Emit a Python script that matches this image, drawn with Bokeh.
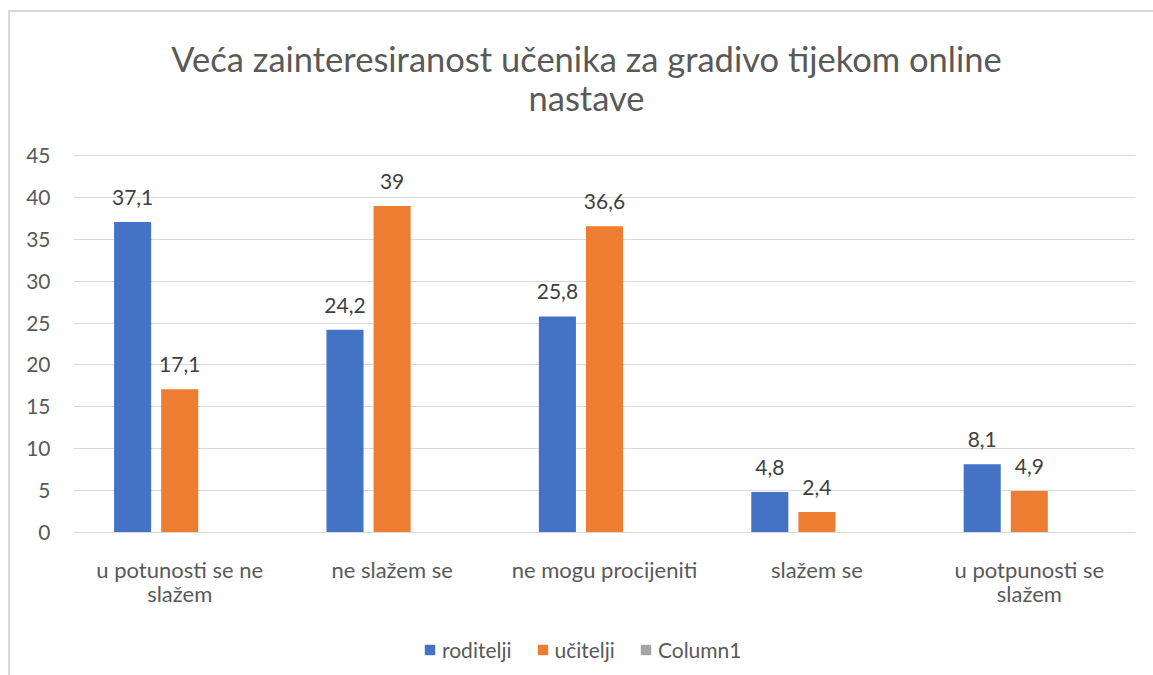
from bokeh.plotting import figure
from bokeh.models import (ColumnDataSource, FactorRange, Range1d, Legend, Label,
                          LegendItem, FixedTicker, LabelSet)
from bokeh.core.properties import value
from bokeh.transform import dodge
from bokeh.embed import file_html
from bokeh.resources import INLINE

categories = ["u potunosti se ne slažem", "ne slažem se", "ne mogu procijeniti",
              "slažem se", "u potpunosti se slažem"]
label_line1 = ["u potunosti se ne", "ne slažem se", "ne mogu procijeniti",
               "slažem se", "u potpunosti se"]
label_line2 = ["slažem", "", "", "", "slažem"]
roditelji = [37.1, 24.2, 25.8, 4.8, 8.1]
ucitelji = [17.1, 39, 36.6, 2.4, 4.9]
column1 = [float("nan")] * 5
series_names = ["roditelji", "učitelji", "Column1"]
colors = ["#4472C4", "#ED7D31", "#A5A5A5"]
y_ticks = [0, 5, 10, 15, 20, 25, 30, 35, 40, 45]
title_lines = ["Veća zainteresiranost učenika za gradivo tijekom online", "nastave"]

FONT = "Lato"

def fmt(v):
    return f"{v:g}".replace(".", ",")

src = ColumnDataSource(dict(
    cat=categories,
    rod=roditelji,
    uci=ucitelji,
    col=column1,
    rod_lbl=[fmt(v) for v in roditelji],
    uci_lbl=[fmt(v) for v in ucitelji],
    line1=label_line1,
    line2=label_line2,
    zero=[0] * len(categories),
))

FRAME_TOP, FRAME_BOTTOM = 12, 675   # page pixels of the plotting area
PX = 375 / 45.0                     # pixels per unit in the reference
y_lo = -(FRAME_BOTTOM - 530) / PX
y_hi = 45 + (155 - FRAME_TOP) / PX

p = figure(width=1145, height=FRAME_BOTTOM - 10, x_range=FactorRange(*categories),
           y_range=Range1d(y_lo, y_hi), output_backend="svg", toolbar_location=None,
           min_border_left=63, min_border_right=20, min_border_top=0,
           min_border_bottom=0)
p.styles = {"margin-left": "8px", "margin-top": "10px",
            "border-style": "solid none none solid",
            "border-width": "2px 0px 0px 2px",
            "border-color": "#d9d9d9"}
p.outline_line_color = None

off = 47 / 212
bw = 37 / 212
r1 = p.vbar(x=dodge("cat", -off, range=p.x_range), top="rod", width=bw, source=src,
            fill_color=colors[0], line_color=None)
r2 = p.vbar(x=dodge("cat", 0, range=p.x_range), top="uci", width=bw, source=src,
            fill_color=colors[1], line_color=None)
r3 = p.vbar(x=dodge("cat", off, range=p.x_range), top="col", width=bw, source=src,
            fill_color=colors[2], line_color=None)

for xo, ycol, lcol in [(-off, "rod", "rod_lbl"), (0, "uci", "uci_lbl")]:
    p.add_layout(LabelSet(x=dodge("cat", xo, range=p.x_range), y=ycol, text=lcol,
                          source=src, text_align="center", text_baseline="bottom",
                          y_offset=17, text_font=value(FONT), text_font_size="21px",
                          text_color="#404040"))

# y axis
p.yaxis.ticker = FixedTicker(ticks=y_ticks)
p.yaxis.axis_line_color = None
p.yaxis.major_tick_line_color = None
p.yaxis.minor_tick_line_color = None
p.yaxis.major_tick_out = 0
p.yaxis.major_tick_in = 0
p.yaxis.major_label_standoff = 23
p.yaxis.major_label_text_font = FONT
p.yaxis.major_label_text_font_size = "21px"
p.yaxis.major_label_text_color = "#595959"

p.xaxis.visible = False
p.xgrid.grid_line_color = None
p.ygrid.grid_line_color = "#d9d9d9"
p.ygrid.grid_line_width = 1

# category labels (two lines)
for col, yo in [("line1", -37), ("line2", -61)]:
    p.add_layout(LabelSet(x=dodge("cat", 0, range=p.x_range), y="zero", text=col,
                          source=src, text_align="center", text_baseline="middle",
                          y_offset=yo, text_font=value(FONT), text_font_size="22px",
                          text_color="#595959"))

# title (two lines)
for txt, yo in zip(title_lines, [97, 58]):
    p.add_layout(Label(x=2.5, y=45, x_offset=-18, y_offset=yo, text=txt,
                       text_align="center", text_baseline="middle", text_font=FONT,
                       text_font_size="34.5px", text_color="#595959"))

legend = Legend(items=[LegendItem(label=n, renderers=[r]) for n, r in
                       zip(series_names, [r1, r2, r3])],
                orientation="horizontal", location=(350, 15),
                label_text_font=FONT, label_text_font_size="21px",
                label_text_color="#595959", glyph_width=13, glyph_height=13,
                label_standoff=6, spacing=24, border_line_color=None,
                background_fill_alpha=0, margin=0, padding=0)
p.add_layout(legend, "center")

open("out.html", "w").write(file_html(p, INLINE))
